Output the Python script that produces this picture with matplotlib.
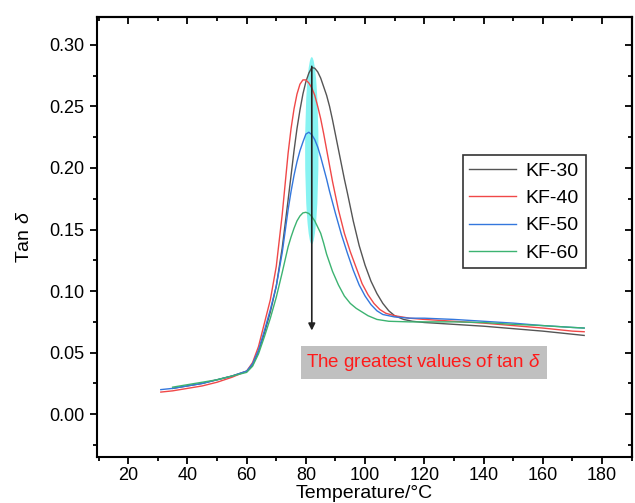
import matplotlib
matplotlib.use("Agg")
import matplotlib.pyplot as plt
from matplotlib.patches import Ellipse
from matplotlib.ticker import MultipleLocator

plt.rcParams['font.family'] = ['Liberation Sans', 'DejaVu Sans']
plt.rcParams['mathtext.fontset'] = 'custom'
plt.rcParams['mathtext.rm'] = 'Liberation Sans'
plt.rcParams['mathtext.it'] = 'Liberation Sans:italic'

# KF-30 (gray)
t30 = [35, 40, 45, 50, 55, 60, 62, 64, 66, 68, 70, 72, 74, 76, 77, 78, 79, 80, 81, 82, 83,
       84, 85, 86, 87, 88, 89, 90, 91, 92, 93, 94, 96, 98, 100, 102, 104, 106, 108, 110,
       113, 116, 120, 130, 140, 150, 160, 170, 174]
v30 = [0.021, 0.023, 0.025, 0.028, 0.031, 0.035, 0.040, 0.051, 0.066, 0.083, 0.104, 0.135,
       0.174, 0.214, 0.232, 0.247, 0.260, 0.270, 0.277, 0.2815, 0.281,
       0.278, 0.273, 0.266, 0.259, 0.250, 0.239, 0.227, 0.215, 0.203, 0.191, 0.180, 0.157,
       0.137, 0.121, 0.108, 0.098, 0.090, 0.084, 0.080,
       0.077, 0.0755, 0.0745, 0.073, 0.0715, 0.0695, 0.0675, 0.065, 0.064]

# KF-40 (red)
t40 = [31, 35, 40, 45, 50, 55, 60, 62, 64, 66, 68, 70, 72, 74, 75, 76, 77, 78, 79, 80, 81,
       82, 83, 84, 85, 86, 87, 88, 89, 91, 93, 95, 97, 99, 101, 103, 105, 107, 110, 115,
       120, 130, 140, 150, 160, 170, 174]
v40 = [0.018, 0.019, 0.021, 0.023, 0.026, 0.030, 0.035, 0.042, 0.055, 0.074, 0.093, 0.120,
       0.162, 0.212, 0.232, 0.248, 0.260, 0.268, 0.2715, 0.2715, 0.269,
       0.265, 0.259, 0.250, 0.240, 0.228, 0.215, 0.202, 0.189, 0.166, 0.147, 0.132, 0.119,
       0.106, 0.097, 0.090, 0.085, 0.082, 0.080, 0.078,
       0.077, 0.0755, 0.074, 0.072, 0.070, 0.0675, 0.067]

# KF-50 (blue)
t50 = [31, 35, 40, 45, 50, 55, 60, 62, 64, 66, 68, 70, 72, 74, 75, 76, 77, 78, 79, 80, 81,
       82, 83, 84, 85, 86, 87, 88, 90, 92, 94, 96, 98, 100, 102, 104, 106, 110, 115, 120,
       130, 140, 150, 160, 170, 174]
v50 = [0.020, 0.021, 0.023, 0.025, 0.028, 0.031, 0.035, 0.041, 0.052, 0.068, 0.085, 0.104,
       0.131, 0.166, 0.181, 0.194, 0.205, 0.214, 0.221, 0.2275, 0.229,
       0.227, 0.223, 0.217, 0.209, 0.200, 0.191, 0.181, 0.163, 0.146, 0.131, 0.117, 0.105,
       0.096, 0.089, 0.084, 0.081, 0.079, 0.078, 0.078,
       0.077, 0.0755, 0.074, 0.072, 0.0705, 0.070]

# KF-60 (green)
t60 = [35, 40, 45, 50, 55, 60, 62, 64, 66, 68, 70, 72, 74, 75, 76, 77, 78, 79, 80, 81, 82,
       83, 84, 85, 86, 87, 89, 91, 93, 95, 97, 99, 101, 104, 108, 115, 120,
       130, 140, 150, 160, 170, 174]
v60 = [0.022, 0.024, 0.026, 0.028, 0.031, 0.034, 0.039, 0.049, 0.063, 0.078, 0.095, 0.115,
       0.136, 0.144, 0.151, 0.157, 0.161, 0.1635, 0.164, 0.163, 0.1605,
       0.157, 0.152, 0.147, 0.139, 0.130, 0.116, 0.105, 0.096, 0.090, 0.086, 0.083, 0.080,
       0.077, 0.0755, 0.075, 0.075,
       0.075, 0.0745, 0.073, 0.072, 0.0705, 0.070]

labels = ['KF-30', 'KF-40', 'KF-50', 'KF-60']
colors = ['#555555', '#f04848', '#3377dd', '#3cb371']


def draw():
    fig = plt.figure(figsize=(6.35, 5.03), dpi=100)
    ax = fig.add_axes([0.153, 0.0915, 0.842, 0.8745])

    # highlight of the peak region
    ax.add_patch(Ellipse((82, 0.214), 4.5, 0.152, facecolor='#5ff0ee', edgecolor='none',
                         alpha=0.75, zorder=1))

    series = [(t30, v30), (t40, v40), (t50, v50), (t60, v60)]
    for (t, v), lab, c in zip(series, labels, colors):
        ax.plot(t, v, color=c, lw=1.0, label=lab, zorder=2)

    ax.annotate('', xy=(82, 0.068), xytext=(82, 0.2825),
                arrowprops=dict(arrowstyle='-|>', color='#222222', lw=1.2,
                                mutation_scale=10, shrinkA=0, shrinkB=0), zorder=3)

    ax.text(80.2, 0.042, r'The greatest values of tan $\delta$', color='#ff1a1a', fontsize=13.5,
            va='center', ha='left',
            bbox=dict(facecolor='#c0c0c0', edgecolor='none', boxstyle='square,pad=0.3'))

    ax.set_xlim(9.5, 190.1)
    ax.set_ylim(-0.0347, 0.3225)
    ax.xaxis.set_major_locator(MultipleLocator(20))
    ax.xaxis.set_minor_locator(MultipleLocator(10))
    ax.yaxis.set_major_locator(MultipleLocator(0.05))
    ax.yaxis.set_minor_locator(MultipleLocator(0.025))
    ax.yaxis.set_major_formatter(lambda y, pos: '%.2f' % y)

    ax.tick_params(which='both', direction='out', width=1.3, labelsize=13)
    ax.tick_params(axis='x', pad=2)
    ax.tick_params(axis='y', pad=4)
    ax.tick_params(which='major', length=5)
    ax.tick_params(which='minor', length=3)
    for s in ax.spines.values():
        s.set_linewidth(1.5)

    # top and right ticks point inward
    top = ax.secondary_xaxis('top')
    top.xaxis.set_major_locator(MultipleLocator(20))
    top.xaxis.set_minor_locator(MultipleLocator(10))
    top.tick_params(which='both', direction='in', width=1.3, labeltop=False)
    top.tick_params(which='major', length=5)
    top.tick_params(which='minor', length=3)
    right = ax.secondary_yaxis('right')
    right.yaxis.set_major_locator(MultipleLocator(0.05))
    right.yaxis.set_minor_locator(MultipleLocator(0.025))
    right.tick_params(which='both', direction='in', width=1.3, labelright=False)
    right.tick_params(which='major', length=5)
    right.tick_params(which='minor', length=3)
    top.spines['top'].set_linewidth(1.5)
    right.spines['right'].set_linewidth(1.5)

    ax.set_xlabel('Temperature/°C', fontsize=14, labelpad=1)
    ax.set_ylabel(r'Tan $\delta$', fontsize=14, labelpad=12)

    leg = ax.legend(loc='upper right', bbox_to_anchor=(0.914, 0.686), borderaxespad=0,
                    fontsize=14, handlelength=2.4, handletextpad=0.5, labelspacing=0.5,
                    borderpad=0.35, fancybox=False, edgecolor='#333333', framealpha=1)
    leg.get_frame().set_linewidth(1.2)

    fig.savefig('out.png', dpi=100)


if __name__ == '__main__':
    draw()
